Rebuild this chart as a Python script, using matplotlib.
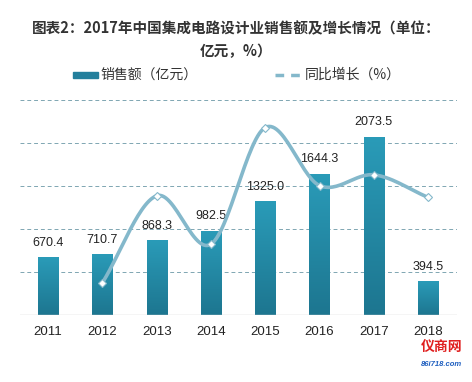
import numpy as np
import matplotlib
matplotlib.use('Agg')
import matplotlib.pyplot as plt
from matplotlib.patches import Rectangle
from matplotlib.lines import Line2D
from matplotlib.colors import LinearSegmentedColormap

plt.rcParams['font.family'] = ['Noto Sans CJK SC', 'DejaVu Sans']

years = ['2011', '2012', '2013', '2014', '2015', '2016', '2017', '2018']
sales = [670.4, 710.7, 868.3, 982.5, 1325.0, 1644.3, 2073.5, 394.5]
growth_years = ['2012', '2013', '2014', '2015', '2016', '2017', '2018']
growth = [6.0, 22.2, 13.2, 34.9, 24.1, 26.1, 21.9]

line_c = '#84b8cb'
grid_c = '#7fa6b2'
num_font = ['Liberation Sans', 'Noto Sans CJK SC']
bar_cmap = LinearSegmentedColormap.from_list('bar', ['#1d7690', '#2a9bb8'])


def smooth(xs, ys, n=30):
    # catmull-rom curve through the points, like the excel smoothed line
    xs = np.asarray(xs, float)
    ys = np.asarray(ys, float)
    px = np.concatenate([[2 * xs[0] - xs[1]], xs, [2 * xs[-1] - xs[-2]]])
    py = np.concatenate([[2 * ys[0] - ys[1]], ys, [2 * ys[-1] - ys[-2]]])
    ox, oy = [], []
    t = np.linspace(0, 1, n)
    for i in range(1, len(px) - 2):
        for p, o in ((px, ox), (py, oy)):
            p0, p1, p2, p3 = p[i - 1], p[i], p[i + 1], p[i + 2]
            o.extend(0.5 * (2 * p1 + (-p0 + p2) * t + (2 * p0 - 5 * p1 + 4 * p2 - p3) * t ** 2
                            + (-p0 + 3 * p1 - 3 * p2 + p3) * t ** 3))
    return np.array(ox), np.array(oy)


fig = plt.figure(figsize=(4.72, 3.82), dpi=100)
ax = fig.add_axes([0.042, 0.175, 0.926, 0.563])
x = np.arange(len(years))

ax.set_ylim(0, 2500)
ax.set_xlim(-0.52, 7.53)
bars = ax.bar(x, sales, width=0.37, color='none', zorder=2)
grad = np.linspace(0, 1, 100).reshape(-1, 1)
for b in bars:
    im = ax.imshow(grad, cmap=bar_cmap, aspect='auto', origin='lower', zorder=2,
                   extent=[b.get_x(), b.get_x() + b.get_width(), 0, b.get_height()])
    im.set_clip_path(b)
ax.set_xlim(-0.52, 7.53)
ax.set_ylim(0, 2500)

for xi, v in zip(x, sales):
    ax.annotate(f'{v:.1f}', (xi, v), xytext=(0, 6), textcoords='offset points',
                ha='center', va='bottom', fontsize=9, color='#222222', family=num_font, zorder=5)

for g in [500, 1000, 1500, 2000, 2500]:
    ax.axhline(g, color=grid_c, lw=0.7, ls=(0, (4, 3)), zorder=0)
ax.axhline(0, color='#d0d0d0', lw=1, zorder=3)
for s in ax.spines.values():
    s.set_visible(False)
ax.set_yticks([])
ax.set_xticks(x)
ax.set_xticklabels(years, fontsize=9.5, color='#222222', family=num_font)
ax.tick_params(axis='x', length=0, pad=8)

ax2 = ax.twinx()
ax2.set_ylim(0, 40)
gx = [years.index(y) for y in growth_years]
sx, sy = smooth(gx, growth)
ax2.plot(sx, sy, color=line_c, lw=2.6, solid_capstyle='round', zorder=3)
ax2.plot(gx, growth, ls='none', marker='D', ms=4.5, mfc='white', mec=line_c, mew=0.8, zorder=4)
ax2.set_yticks([])
for s in ax2.spines.values():
    s.set_visible(False)

fig.text(0.5, 0.925, '图表2：2017年中国集成电路设计业销售额及增长情况（单位：',
         ha='center', va='center', fontsize=10.5, fontweight='bold', color='#333333')
fig.text(0.5, 0.866, '亿元，%）', ha='center', va='center', fontsize=10.5,
         fontweight='bold', color='#333333')

# legend
fig.add_artist(Rectangle((73 / 472, 1 - 78 / 382), 25 / 472, 6 / 382,
                         transform=fig.transFigure, color='#237f9c'))
fig.text(100 / 472, 1 - 75 / 382, '销售额（亿元）', ha='left', va='center', fontsize=10, color='#333333')
fig.add_artist(Line2D([275 / 472, 303 / 472], [1 - 75 / 382, 1 - 75 / 382],
                      transform=fig.transFigure, color=line_c, lw=2.5, ls=(0, (2.5, 2))))
fig.text(305 / 472, 1 - 75 / 382, '同比增长（%）', ha='left', va='center', fontsize=10, color='#333333')

# site mark bottom right
fig.text(0.935, 0.088, '仪商网', ha='center', va='center', fontsize=10, fontweight='bold', color='#e02020')
fig.text(0.935, 0.045, '86i718.com', ha='center', va='center', fontsize=5.5,
         fontweight='bold', style='italic', color='#2060c0', family=num_font)

fig.savefig('out.png', dpi=100, facecolor='white')
